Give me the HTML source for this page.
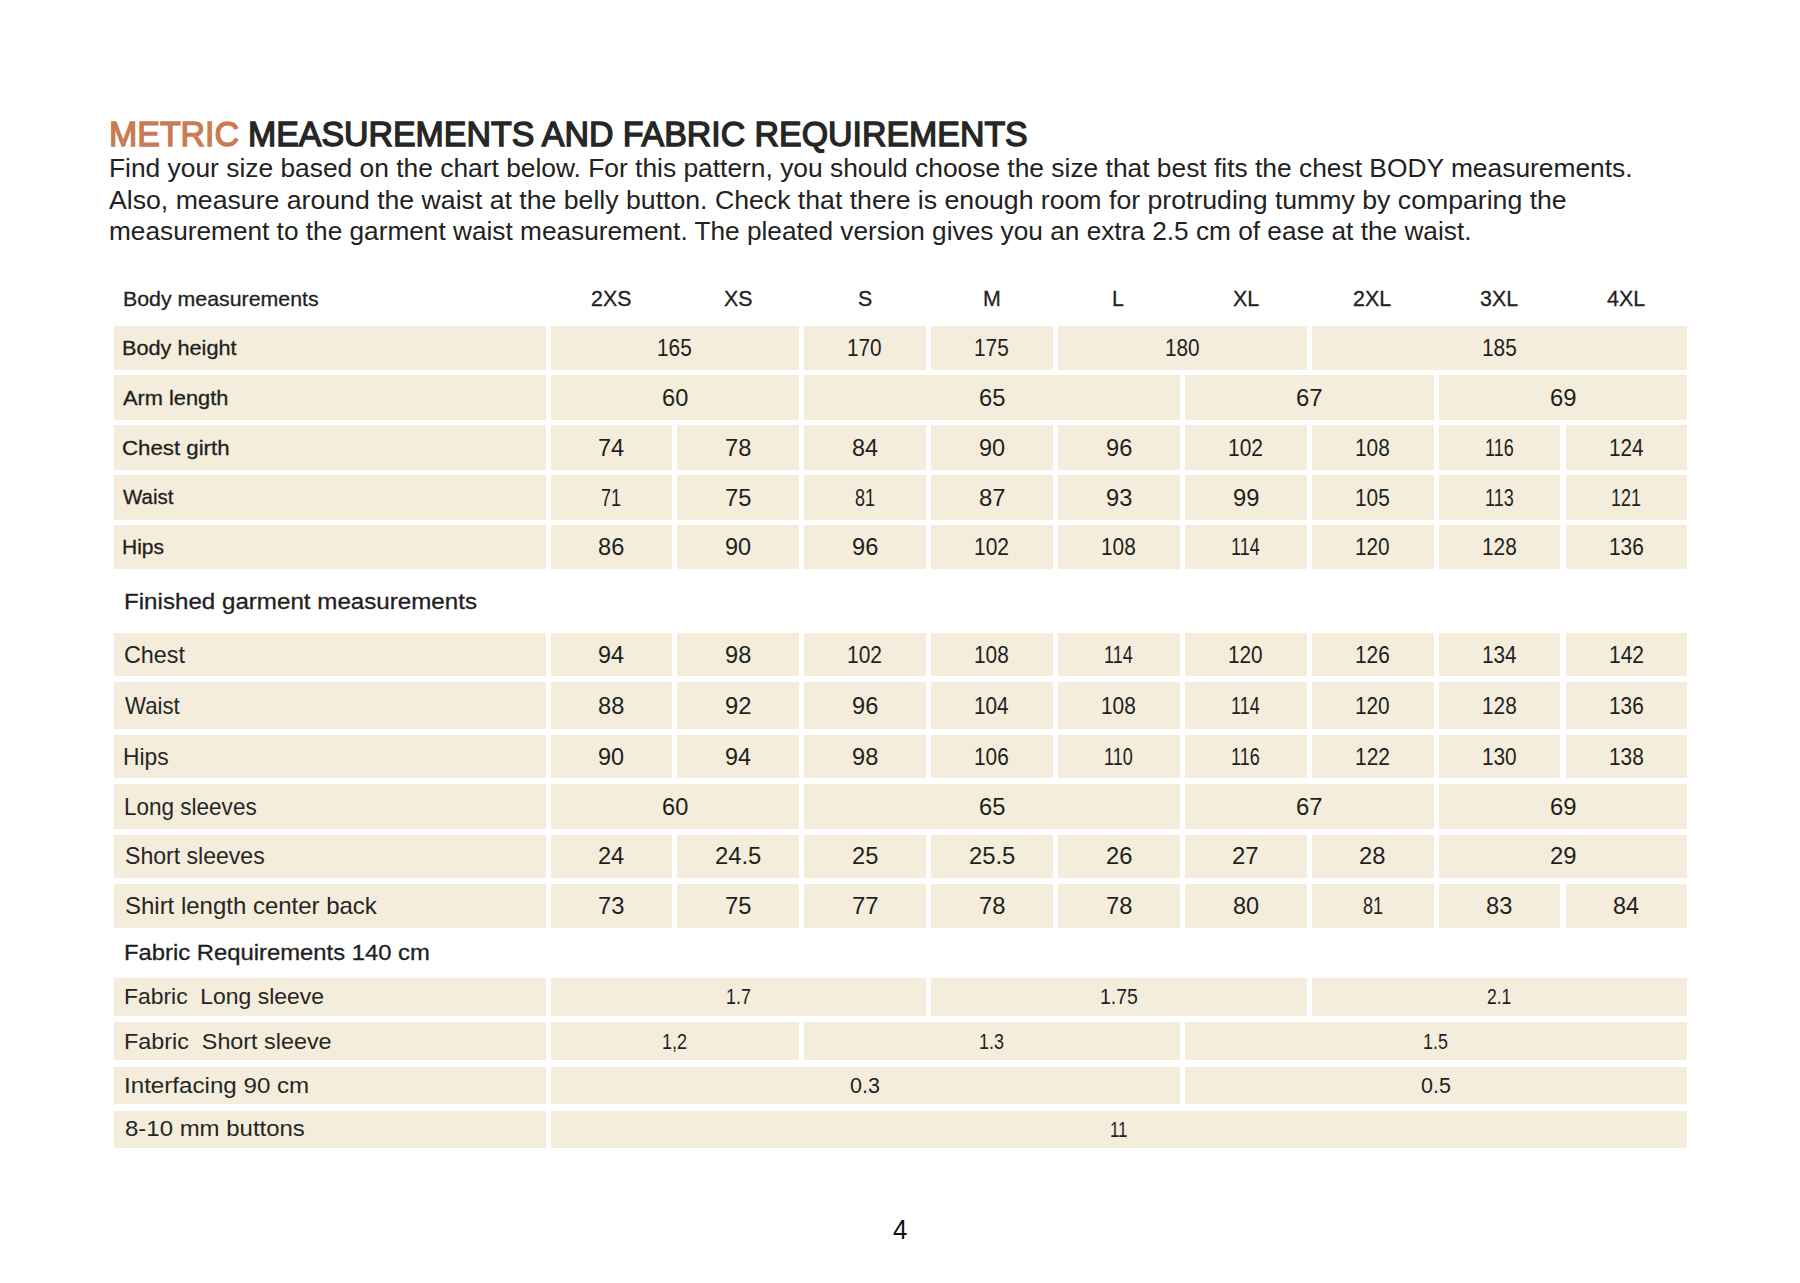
<!DOCTYPE html>
<html><head><meta charset="utf-8"><title>Metric measurements and fabric requirements</title>
<style>
html,body{margin:0;padding:0;background:#fff;}
body{width:1800px;height:1283px;position:relative;overflow:hidden;font-family:"Liberation Sans",Arial,sans-serif;}
.c{position:absolute;background:#F4EDDB;}
.t{position:absolute;white-space:pre;transform-origin:0 0;}

</style></head><body>
<div class="c" style="left:113.50px;top:325.80px;width:432.00px;height:44.50px"></div>
<div class="c" style="left:550.70px;top:325.80px;width:248.40px;height:44.50px"></div>
<div class="c" style="left:804.10px;top:325.80px;width:121.90px;height:44.50px"></div>
<div class="c" style="left:931.00px;top:325.80px;width:121.90px;height:44.50px"></div>
<div class="c" style="left:1057.90px;top:325.80px;width:248.80px;height:44.50px"></div>
<div class="c" style="left:1311.70px;top:325.80px;width:375.60px;height:44.50px"></div>
<div class="c" style="left:113.50px;top:375.30px;width:432.00px;height:44.70px"></div>
<div class="c" style="left:550.70px;top:375.30px;width:248.40px;height:44.70px"></div>
<div class="c" style="left:804.10px;top:375.30px;width:375.70px;height:44.70px"></div>
<div class="c" style="left:1184.80px;top:375.30px;width:248.80px;height:44.70px"></div>
<div class="c" style="left:1438.60px;top:375.30px;width:248.70px;height:44.70px"></div>
<div class="c" style="left:113.50px;top:425.00px;width:432.00px;height:45.00px"></div>
<div class="c" style="left:550.70px;top:425.00px;width:121.50px;height:45.00px"></div>
<div class="c" style="left:677.20px;top:425.00px;width:121.90px;height:45.00px"></div>
<div class="c" style="left:804.10px;top:425.00px;width:121.90px;height:45.00px"></div>
<div class="c" style="left:931.00px;top:425.00px;width:121.90px;height:45.00px"></div>
<div class="c" style="left:1057.90px;top:425.00px;width:121.90px;height:45.00px"></div>
<div class="c" style="left:1184.80px;top:425.00px;width:121.90px;height:45.00px"></div>
<div class="c" style="left:1311.70px;top:425.00px;width:121.90px;height:45.00px"></div>
<div class="c" style="left:1438.60px;top:425.00px;width:121.90px;height:45.00px"></div>
<div class="c" style="left:1565.50px;top:425.00px;width:121.80px;height:45.00px"></div>
<div class="c" style="left:113.50px;top:474.80px;width:432.00px;height:45.20px"></div>
<div class="c" style="left:550.70px;top:474.80px;width:121.50px;height:45.20px"></div>
<div class="c" style="left:677.20px;top:474.80px;width:121.90px;height:45.20px"></div>
<div class="c" style="left:804.10px;top:474.80px;width:121.90px;height:45.20px"></div>
<div class="c" style="left:931.00px;top:474.80px;width:121.90px;height:45.20px"></div>
<div class="c" style="left:1057.90px;top:474.80px;width:121.90px;height:45.20px"></div>
<div class="c" style="left:1184.80px;top:474.80px;width:121.90px;height:45.20px"></div>
<div class="c" style="left:1311.70px;top:474.80px;width:121.90px;height:45.20px"></div>
<div class="c" style="left:1438.60px;top:474.80px;width:121.90px;height:45.20px"></div>
<div class="c" style="left:1565.50px;top:474.80px;width:121.80px;height:45.20px"></div>
<div class="c" style="left:113.50px;top:524.50px;width:432.00px;height:44.50px"></div>
<div class="c" style="left:550.70px;top:524.50px;width:121.50px;height:44.50px"></div>
<div class="c" style="left:677.20px;top:524.50px;width:121.90px;height:44.50px"></div>
<div class="c" style="left:804.10px;top:524.50px;width:121.90px;height:44.50px"></div>
<div class="c" style="left:931.00px;top:524.50px;width:121.90px;height:44.50px"></div>
<div class="c" style="left:1057.90px;top:524.50px;width:121.90px;height:44.50px"></div>
<div class="c" style="left:1184.80px;top:524.50px;width:121.90px;height:44.50px"></div>
<div class="c" style="left:1311.70px;top:524.50px;width:121.90px;height:44.50px"></div>
<div class="c" style="left:1438.60px;top:524.50px;width:121.90px;height:44.50px"></div>
<div class="c" style="left:1565.50px;top:524.50px;width:121.80px;height:44.50px"></div>
<div class="c" style="left:113.50px;top:633.00px;width:432.00px;height:42.50px"></div>
<div class="c" style="left:550.70px;top:633.00px;width:121.50px;height:42.50px"></div>
<div class="c" style="left:677.20px;top:633.00px;width:121.90px;height:42.50px"></div>
<div class="c" style="left:804.10px;top:633.00px;width:121.90px;height:42.50px"></div>
<div class="c" style="left:931.00px;top:633.00px;width:121.90px;height:42.50px"></div>
<div class="c" style="left:1057.90px;top:633.00px;width:121.90px;height:42.50px"></div>
<div class="c" style="left:1184.80px;top:633.00px;width:121.90px;height:42.50px"></div>
<div class="c" style="left:1311.70px;top:633.00px;width:121.90px;height:42.50px"></div>
<div class="c" style="left:1438.60px;top:633.00px;width:121.90px;height:42.50px"></div>
<div class="c" style="left:1565.50px;top:633.00px;width:121.80px;height:42.50px"></div>
<div class="c" style="left:113.50px;top:682.00px;width:432.00px;height:46.50px"></div>
<div class="c" style="left:550.70px;top:682.00px;width:121.50px;height:46.50px"></div>
<div class="c" style="left:677.20px;top:682.00px;width:121.90px;height:46.50px"></div>
<div class="c" style="left:804.10px;top:682.00px;width:121.90px;height:46.50px"></div>
<div class="c" style="left:931.00px;top:682.00px;width:121.90px;height:46.50px"></div>
<div class="c" style="left:1057.90px;top:682.00px;width:121.90px;height:46.50px"></div>
<div class="c" style="left:1184.80px;top:682.00px;width:121.90px;height:46.50px"></div>
<div class="c" style="left:1311.70px;top:682.00px;width:121.90px;height:46.50px"></div>
<div class="c" style="left:1438.60px;top:682.00px;width:121.90px;height:46.50px"></div>
<div class="c" style="left:1565.50px;top:682.00px;width:121.80px;height:46.50px"></div>
<div class="c" style="left:113.50px;top:734.70px;width:432.00px;height:43.30px"></div>
<div class="c" style="left:550.70px;top:734.70px;width:121.50px;height:43.30px"></div>
<div class="c" style="left:677.20px;top:734.70px;width:121.90px;height:43.30px"></div>
<div class="c" style="left:804.10px;top:734.70px;width:121.90px;height:43.30px"></div>
<div class="c" style="left:931.00px;top:734.70px;width:121.90px;height:43.30px"></div>
<div class="c" style="left:1057.90px;top:734.70px;width:121.90px;height:43.30px"></div>
<div class="c" style="left:1184.80px;top:734.70px;width:121.90px;height:43.30px"></div>
<div class="c" style="left:1311.70px;top:734.70px;width:121.90px;height:43.30px"></div>
<div class="c" style="left:1438.60px;top:734.70px;width:121.90px;height:43.30px"></div>
<div class="c" style="left:1565.50px;top:734.70px;width:121.80px;height:43.30px"></div>
<div class="c" style="left:113.50px;top:784.00px;width:432.00px;height:44.50px"></div>
<div class="c" style="left:550.70px;top:784.00px;width:248.40px;height:44.50px"></div>
<div class="c" style="left:804.10px;top:784.00px;width:375.70px;height:44.50px"></div>
<div class="c" style="left:1184.80px;top:784.00px;width:248.80px;height:44.50px"></div>
<div class="c" style="left:1438.60px;top:784.00px;width:248.70px;height:44.50px"></div>
<div class="c" style="left:113.50px;top:834.50px;width:432.00px;height:43.10px"></div>
<div class="c" style="left:550.70px;top:834.50px;width:121.50px;height:43.10px"></div>
<div class="c" style="left:677.20px;top:834.50px;width:121.90px;height:43.10px"></div>
<div class="c" style="left:804.10px;top:834.50px;width:121.90px;height:43.10px"></div>
<div class="c" style="left:931.00px;top:834.50px;width:121.90px;height:43.10px"></div>
<div class="c" style="left:1057.90px;top:834.50px;width:121.90px;height:43.10px"></div>
<div class="c" style="left:1184.80px;top:834.50px;width:121.90px;height:43.10px"></div>
<div class="c" style="left:1311.70px;top:834.50px;width:121.90px;height:43.10px"></div>
<div class="c" style="left:1438.60px;top:834.50px;width:248.70px;height:43.10px"></div>
<div class="c" style="left:113.50px;top:884.00px;width:432.00px;height:43.60px"></div>
<div class="c" style="left:550.70px;top:884.00px;width:121.50px;height:43.60px"></div>
<div class="c" style="left:677.20px;top:884.00px;width:121.90px;height:43.60px"></div>
<div class="c" style="left:804.10px;top:884.00px;width:121.90px;height:43.60px"></div>
<div class="c" style="left:931.00px;top:884.00px;width:121.90px;height:43.60px"></div>
<div class="c" style="left:1057.90px;top:884.00px;width:121.90px;height:43.60px"></div>
<div class="c" style="left:1184.80px;top:884.00px;width:121.90px;height:43.60px"></div>
<div class="c" style="left:1311.70px;top:884.00px;width:121.90px;height:43.60px"></div>
<div class="c" style="left:1438.60px;top:884.00px;width:121.90px;height:43.60px"></div>
<div class="c" style="left:1565.50px;top:884.00px;width:121.80px;height:43.60px"></div>
<div class="c" style="left:113.50px;top:977.50px;width:432.00px;height:38.50px"></div>
<div class="c" style="left:550.70px;top:977.50px;width:375.30px;height:38.50px"></div>
<div class="c" style="left:931.00px;top:977.50px;width:375.70px;height:38.50px"></div>
<div class="c" style="left:1311.70px;top:977.50px;width:375.60px;height:38.50px"></div>
<div class="c" style="left:113.50px;top:1022.00px;width:432.00px;height:38.30px"></div>
<div class="c" style="left:550.70px;top:1022.00px;width:248.40px;height:38.30px"></div>
<div class="c" style="left:804.10px;top:1022.00px;width:375.70px;height:38.30px"></div>
<div class="c" style="left:1184.80px;top:1022.00px;width:502.50px;height:38.30px"></div>
<div class="c" style="left:113.50px;top:1066.50px;width:432.00px;height:37.50px"></div>
<div class="c" style="left:550.70px;top:1066.50px;width:629.10px;height:37.50px"></div>
<div class="c" style="left:1184.80px;top:1066.50px;width:502.50px;height:37.50px"></div>
<div class="c" style="left:113.50px;top:1110.50px;width:432.00px;height:37.00px"></div>
<div class="c" style="left:550.70px;top:1110.50px;width:1136.60px;height:37.00px"></div>
<div class="t" style="top:116.51px;font-size:35.60px;line-height:35.60px;color:#CB7B54;-webkit-text-stroke:1.40px #CB7B54;left:108.68px;transform:scaleX(0.9535);">METRIC</div>
<div class="t" style="top:116.51px;font-size:35.60px;line-height:35.60px;color:#262626;-webkit-text-stroke:1.40px #262626;left:248.09px;transform:scaleX(0.9527);">MEASUREMENTS AND FABRIC REQUIREMENTS</div>
<div class="t" style="top:156.10px;font-size:25.80px;line-height:25.80px;color:#222;left:108.59px;transform:scaleX(1.0220);">Find your size based on the chart below. For this pattern, you should choose the size that best fits the chest BODY measurements.</div>
<div class="t" style="top:187.71px;font-size:25.80px;line-height:25.80px;color:#222;left:109.30px;transform:scaleX(1.0331);">Also, measure around the waist at the belly button. Check that there is enough room for protruding tummy by comparing the</div>
<div class="t" style="top:219.41px;font-size:25.80px;line-height:25.80px;color:#222;left:108.80px;transform:scaleX(1.0166);">measurement to the garment waist measurement. The pleated version gives you an extra 2.5 cm of ease at the waist.</div>
<div class="t" style="top:288.71px;font-size:20.90px;line-height:20.90px;color:#1f1f1f;-webkit-text-stroke:0.30px #1f1f1f;left:123.09px;transform:scaleX(1.0209);">Body measurements</div>
<div class="t" style="top:288.00px;font-size:22.50px;line-height:22.50px;color:#1f1f1f;-webkit-text-stroke:0.30px #1f1f1f;left:591.20px;transform:scaleX(0.9500);">2XS</div>
<div class="t" style="top:288.00px;font-size:22.50px;line-height:22.50px;color:#1f1f1f;-webkit-text-stroke:0.30px #1f1f1f;left:724.15px;transform:scaleX(0.9500);">XS</div>
<div class="t" style="top:288.00px;font-size:22.50px;line-height:22.50px;color:#1f1f1f;-webkit-text-stroke:0.30px #1f1f1f;left:857.94px;transform:scaleX(0.9500);">S</div>
<div class="t" style="top:288.00px;font-size:22.50px;line-height:22.50px;color:#1f1f1f;-webkit-text-stroke:0.30px #1f1f1f;left:983.08px;transform:scaleX(0.9500);">M</div>
<div class="t" style="top:288.00px;font-size:22.50px;line-height:22.50px;color:#1f1f1f;-webkit-text-stroke:0.30px #1f1f1f;left:1112.38px;transform:scaleX(0.9500);">L</div>
<div class="t" style="top:288.00px;font-size:22.50px;line-height:22.50px;color:#1f1f1f;-webkit-text-stroke:0.30px #1f1f1f;left:1232.76px;transform:scaleX(0.9500);">XL</div>
<div class="t" style="top:288.00px;font-size:22.50px;line-height:22.50px;color:#1f1f1f;-webkit-text-stroke:0.30px #1f1f1f;left:1353.41px;transform:scaleX(0.9500);">2XL</div>
<div class="t" style="top:288.00px;font-size:22.50px;line-height:22.50px;color:#1f1f1f;-webkit-text-stroke:0.30px #1f1f1f;left:1480.42px;transform:scaleX(0.9500);">3XL</div>
<div class="t" style="top:288.00px;font-size:22.50px;line-height:22.50px;color:#1f1f1f;-webkit-text-stroke:0.30px #1f1f1f;left:1607.48px;transform:scaleX(0.9500);">4XL</div>
<div class="t" style="top:338.11px;font-size:20.50px;line-height:20.50px;color:#1f1f1f;-webkit-text-stroke:0.30px #1f1f1f;left:121.56px;transform:scaleX(1.0582);">Body height</div>
<div class="t" style="top:336.33px;font-size:24.00px;line-height:24.00px;color:#1f1f1f;left:657.19px;transform:scaleX(0.8683);">165</div>
<div class="t" style="top:336.33px;font-size:24.00px;line-height:24.00px;color:#1f1f1f;left:847.34px;transform:scaleX(0.8655);">170</div>
<div class="t" style="top:336.33px;font-size:24.00px;line-height:24.00px;color:#1f1f1f;left:974.24px;transform:scaleX(0.8683);">175</div>
<div class="t" style="top:336.33px;font-size:24.00px;line-height:24.00px;color:#1f1f1f;left:1164.59px;transform:scaleX(0.8655);">180</div>
<div class="t" style="top:336.33px;font-size:24.00px;line-height:24.00px;color:#1f1f1f;left:1481.79px;transform:scaleX(0.8683);">185</div>
<div class="t" style="top:387.70px;font-size:20.50px;line-height:20.50px;color:#1f1f1f;-webkit-text-stroke:0.30px #1f1f1f;left:123.00px;transform:scaleX(1.0636);">Arm length</div>
<div class="t" style="top:385.94px;font-size:24.00px;line-height:24.00px;color:#1f1f1f;left:661.62px;transform:scaleX(0.9837);">60</div>
<div class="t" style="top:385.94px;font-size:24.00px;line-height:24.00px;color:#1f1f1f;left:978.66px;transform:scaleX(0.9886);">65</div>
<div class="t" style="top:385.94px;font-size:24.00px;line-height:24.00px;color:#1f1f1f;left:1295.90px;transform:scaleX(0.9983);">67</div>
<div class="t" style="top:385.94px;font-size:24.00px;line-height:24.00px;color:#1f1f1f;left:1549.66px;transform:scaleX(0.9934);">69</div>
<div class="t" style="top:437.56px;font-size:20.50px;line-height:20.50px;color:#1f1f1f;-webkit-text-stroke:0.30px #1f1f1f;left:121.89px;transform:scaleX(1.0852);">Chest girth</div>
<div class="t" style="top:435.78px;font-size:24.00px;line-height:24.00px;color:#1f1f1f;left:598.18px;transform:scaleX(0.9790);">74</div>
<div class="t" style="top:435.78px;font-size:24.00px;line-height:24.00px;color:#1f1f1f;left:724.86px;transform:scaleX(0.9886);">78</div>
<div class="t" style="top:435.78px;font-size:24.00px;line-height:24.00px;color:#1f1f1f;left:851.90px;transform:scaleX(0.9742);">84</div>
<div class="t" style="top:435.78px;font-size:24.00px;line-height:24.00px;color:#1f1f1f;left:978.79px;transform:scaleX(0.9790);">90</div>
<div class="t" style="top:435.78px;font-size:24.00px;line-height:24.00px;color:#1f1f1f;left:1105.69px;transform:scaleX(0.9837);">96</div>
<div class="t" style="top:435.78px;font-size:24.00px;line-height:24.00px;color:#1f1f1f;left:1228.03px;transform:scaleX(0.8739);">102</div>
<div class="t" style="top:435.78px;font-size:24.00px;line-height:24.00px;color:#1f1f1f;left:1354.94px;transform:scaleX(0.8683);">108</div>
<div class="t" style="top:435.78px;font-size:24.00px;line-height:24.00px;color:#1f1f1f;left:1484.88px;transform:scaleX(0.7500);">116</div>
<div class="t" style="top:435.78px;font-size:24.00px;line-height:24.00px;color:#1f1f1f;left:1608.70px;transform:scaleX(0.8627);">124</div>
<div class="t" style="top:487.45px;font-size:20.50px;line-height:20.50px;color:#1f1f1f;-webkit-text-stroke:0.30px #1f1f1f;left:123.00px;transform:scaleX(0.9975);">Waist</div>
<div class="t" style="top:485.69px;font-size:24.00px;line-height:24.00px;color:#1f1f1f;left:601.40px;transform:scaleX(0.7512);">71</div>
<div class="t" style="top:485.69px;font-size:24.00px;line-height:24.00px;color:#1f1f1f;left:724.86px;transform:scaleX(0.9886);">75</div>
<div class="t" style="top:485.69px;font-size:24.00px;line-height:24.00px;color:#1f1f1f;left:855.06px;transform:scaleX(0.7500);">81</div>
<div class="t" style="top:485.69px;font-size:24.00px;line-height:24.00px;color:#1f1f1f;left:978.78px;transform:scaleX(0.9934);">87</div>
<div class="t" style="top:485.69px;font-size:24.00px;line-height:24.00px;color:#1f1f1f;left:1105.69px;transform:scaleX(0.9837);">93</div>
<div class="t" style="top:485.69px;font-size:24.00px;line-height:24.00px;color:#1f1f1f;left:1232.58px;transform:scaleX(0.9886);">99</div>
<div class="t" style="top:485.69px;font-size:24.00px;line-height:24.00px;color:#1f1f1f;left:1354.94px;transform:scaleX(0.8683);">105</div>
<div class="t" style="top:485.69px;font-size:24.00px;line-height:24.00px;color:#1f1f1f;left:1484.88px;transform:scaleX(0.7500);">113</div>
<div class="t" style="top:485.69px;font-size:24.00px;line-height:24.00px;color:#1f1f1f;left:1611.15px;transform:scaleX(0.7500);">121</div>
<div class="t" style="top:536.81px;font-size:20.50px;line-height:20.50px;color:#1f1f1f;-webkit-text-stroke:0.30px #1f1f1f;left:121.72px;transform:scaleX(1.0248);">Hips</div>
<div class="t" style="top:535.03px;font-size:24.00px;line-height:24.00px;color:#1f1f1f;left:598.29px;transform:scaleX(0.9837);">86</div>
<div class="t" style="top:535.03px;font-size:24.00px;line-height:24.00px;color:#1f1f1f;left:724.99px;transform:scaleX(0.9790);">90</div>
<div class="t" style="top:535.03px;font-size:24.00px;line-height:24.00px;color:#1f1f1f;left:851.89px;transform:scaleX(0.9837);">96</div>
<div class="t" style="top:535.03px;font-size:24.00px;line-height:24.00px;color:#1f1f1f;left:974.23px;transform:scaleX(0.8739);">102</div>
<div class="t" style="top:535.03px;font-size:24.00px;line-height:24.00px;color:#1f1f1f;left:1101.14px;transform:scaleX(0.8683);">108</div>
<div class="t" style="top:535.03px;font-size:24.00px;line-height:24.00px;color:#1f1f1f;left:1230.99px;transform:scaleX(0.7500);">114</div>
<div class="t" style="top:535.03px;font-size:24.00px;line-height:24.00px;color:#1f1f1f;left:1354.94px;transform:scaleX(0.8655);">120</div>
<div class="t" style="top:535.03px;font-size:24.00px;line-height:24.00px;color:#1f1f1f;left:1481.84px;transform:scaleX(0.8683);">128</div>
<div class="t" style="top:535.03px;font-size:24.00px;line-height:24.00px;color:#1f1f1f;left:1608.69px;transform:scaleX(0.8683);">136</div>
<div class="t" style="top:590.51px;font-size:22.40px;line-height:22.40px;color:#1f1f1f;-webkit-text-stroke:0.30px #1f1f1f;left:123.67px;transform:scaleX(1.0784);">Finished garment measurements</div>
<div class="t" style="top:642.50px;font-size:24.00px;line-height:24.00px;color:#262626;left:123.83px;transform:scaleX(0.9736);">Chest</div>
<div class="t" style="top:642.53px;font-size:24.00px;line-height:24.00px;color:#1f1f1f;left:598.30px;transform:scaleX(0.9742);">94</div>
<div class="t" style="top:642.53px;font-size:24.00px;line-height:24.00px;color:#1f1f1f;left:724.99px;transform:scaleX(0.9837);">98</div>
<div class="t" style="top:642.53px;font-size:24.00px;line-height:24.00px;color:#1f1f1f;left:847.33px;transform:scaleX(0.8739);">102</div>
<div class="t" style="top:642.53px;font-size:24.00px;line-height:24.00px;color:#1f1f1f;left:974.24px;transform:scaleX(0.8683);">108</div>
<div class="t" style="top:642.53px;font-size:24.00px;line-height:24.00px;color:#1f1f1f;left:1104.09px;transform:scaleX(0.7500);">114</div>
<div class="t" style="top:642.53px;font-size:24.00px;line-height:24.00px;color:#1f1f1f;left:1228.04px;transform:scaleX(0.8655);">120</div>
<div class="t" style="top:642.53px;font-size:24.00px;line-height:24.00px;color:#1f1f1f;left:1354.94px;transform:scaleX(0.8683);">126</div>
<div class="t" style="top:642.53px;font-size:24.00px;line-height:24.00px;color:#1f1f1f;left:1481.85px;transform:scaleX(0.8627);">134</div>
<div class="t" style="top:642.53px;font-size:24.00px;line-height:24.00px;color:#1f1f1f;left:1608.68px;transform:scaleX(0.8739);">142</div>
<div class="t" style="top:693.50px;font-size:24.00px;line-height:24.00px;color:#262626;left:124.89px;transform:scaleX(0.9252);">Waist</div>
<div class="t" style="top:693.53px;font-size:24.00px;line-height:24.00px;color:#1f1f1f;left:598.29px;transform:scaleX(0.9837);">88</div>
<div class="t" style="top:693.53px;font-size:24.00px;line-height:24.00px;color:#1f1f1f;left:724.98px;transform:scaleX(0.9934);">92</div>
<div class="t" style="top:693.53px;font-size:24.00px;line-height:24.00px;color:#1f1f1f;left:851.89px;transform:scaleX(0.9837);">96</div>
<div class="t" style="top:693.53px;font-size:24.00px;line-height:24.00px;color:#1f1f1f;left:974.25px;transform:scaleX(0.8627);">104</div>
<div class="t" style="top:693.53px;font-size:24.00px;line-height:24.00px;color:#1f1f1f;left:1101.14px;transform:scaleX(0.8683);">108</div>
<div class="t" style="top:693.53px;font-size:24.00px;line-height:24.00px;color:#1f1f1f;left:1230.99px;transform:scaleX(0.7500);">114</div>
<div class="t" style="top:693.53px;font-size:24.00px;line-height:24.00px;color:#1f1f1f;left:1354.94px;transform:scaleX(0.8655);">120</div>
<div class="t" style="top:693.53px;font-size:24.00px;line-height:24.00px;color:#1f1f1f;left:1481.84px;transform:scaleX(0.8683);">128</div>
<div class="t" style="top:693.53px;font-size:24.00px;line-height:24.00px;color:#1f1f1f;left:1608.69px;transform:scaleX(0.8683);">136</div>
<div class="t" style="top:744.61px;font-size:24.00px;line-height:24.00px;color:#262626;left:123.18px;transform:scaleX(0.9505);">Hips</div>
<div class="t" style="top:744.64px;font-size:24.00px;line-height:24.00px;color:#1f1f1f;left:598.29px;transform:scaleX(0.9790);">90</div>
<div class="t" style="top:744.64px;font-size:24.00px;line-height:24.00px;color:#1f1f1f;left:725.00px;transform:scaleX(0.9742);">94</div>
<div class="t" style="top:744.64px;font-size:24.00px;line-height:24.00px;color:#1f1f1f;left:851.89px;transform:scaleX(0.9837);">98</div>
<div class="t" style="top:744.64px;font-size:24.00px;line-height:24.00px;color:#1f1f1f;left:974.24px;transform:scaleX(0.8683);">106</div>
<div class="t" style="top:744.64px;font-size:24.00px;line-height:24.00px;color:#1f1f1f;left:1104.14px;transform:scaleX(0.7500);">110</div>
<div class="t" style="top:744.64px;font-size:24.00px;line-height:24.00px;color:#1f1f1f;left:1231.08px;transform:scaleX(0.7500);">116</div>
<div class="t" style="top:744.64px;font-size:24.00px;line-height:24.00px;color:#1f1f1f;left:1354.93px;transform:scaleX(0.8739);">122</div>
<div class="t" style="top:744.64px;font-size:24.00px;line-height:24.00px;color:#1f1f1f;left:1481.84px;transform:scaleX(0.8655);">130</div>
<div class="t" style="top:744.64px;font-size:24.00px;line-height:24.00px;color:#1f1f1f;left:1608.69px;transform:scaleX(0.8683);">138</div>
<div class="t" style="top:794.50px;font-size:24.00px;line-height:24.00px;color:#262626;left:123.80px;transform:scaleX(0.9379);">Long sleeves</div>
<div class="t" style="top:794.53px;font-size:24.00px;line-height:24.00px;color:#1f1f1f;left:661.62px;transform:scaleX(0.9837);">60</div>
<div class="t" style="top:794.53px;font-size:24.00px;line-height:24.00px;color:#1f1f1f;left:978.66px;transform:scaleX(0.9886);">65</div>
<div class="t" style="top:794.53px;font-size:24.00px;line-height:24.00px;color:#1f1f1f;left:1295.90px;transform:scaleX(0.9983);">67</div>
<div class="t" style="top:794.53px;font-size:24.00px;line-height:24.00px;color:#1f1f1f;left:1549.66px;transform:scaleX(0.9934);">69</div>
<div class="t" style="top:844.30px;font-size:24.00px;line-height:24.00px;color:#262626;left:124.56px;transform:scaleX(0.9608);">Short sleeves</div>
<div class="t" style="top:844.33px;font-size:24.00px;line-height:24.00px;color:#1f1f1f;left:598.18px;transform:scaleX(0.9790);">24</div>
<div class="t" style="top:844.33px;font-size:24.00px;line-height:24.00px;color:#1f1f1f;left:714.86px;transform:scaleX(0.9928);">24.5</div>
<div class="t" style="top:844.33px;font-size:24.00px;line-height:24.00px;color:#1f1f1f;left:851.76px;transform:scaleX(0.9886);">25</div>
<div class="t" style="top:844.33px;font-size:24.00px;line-height:24.00px;color:#1f1f1f;left:968.66px;transform:scaleX(0.9928);">25.5</div>
<div class="t" style="top:844.33px;font-size:24.00px;line-height:24.00px;color:#1f1f1f;left:1105.56px;transform:scaleX(0.9886);">26</div>
<div class="t" style="top:844.33px;font-size:24.00px;line-height:24.00px;color:#1f1f1f;left:1232.45px;transform:scaleX(0.9983);">27</div>
<div class="t" style="top:844.33px;font-size:24.00px;line-height:24.00px;color:#1f1f1f;left:1359.36px;transform:scaleX(0.9886);">28</div>
<div class="t" style="top:844.33px;font-size:24.00px;line-height:24.00px;color:#1f1f1f;left:1549.66px;transform:scaleX(0.9934);">29</div>
<div class="t" style="top:894.05px;font-size:24.00px;line-height:24.00px;color:#262626;left:124.52px;transform:scaleX(0.9986);">Shirt length center back</div>
<div class="t" style="top:894.08px;font-size:24.00px;line-height:24.00px;color:#1f1f1f;left:598.16px;transform:scaleX(0.9886);">73</div>
<div class="t" style="top:894.08px;font-size:24.00px;line-height:24.00px;color:#1f1f1f;left:724.86px;transform:scaleX(0.9886);">75</div>
<div class="t" style="top:894.08px;font-size:24.00px;line-height:24.00px;color:#1f1f1f;left:851.75px;transform:scaleX(0.9983);">77</div>
<div class="t" style="top:894.08px;font-size:24.00px;line-height:24.00px;color:#1f1f1f;left:978.66px;transform:scaleX(0.9886);">78</div>
<div class="t" style="top:894.08px;font-size:24.00px;line-height:24.00px;color:#1f1f1f;left:1105.56px;transform:scaleX(0.9886);">78</div>
<div class="t" style="top:894.08px;font-size:24.00px;line-height:24.00px;color:#1f1f1f;left:1232.59px;transform:scaleX(0.9790);">80</div>
<div class="t" style="top:894.08px;font-size:24.00px;line-height:24.00px;color:#1f1f1f;left:1362.66px;transform:scaleX(0.7500);">81</div>
<div class="t" style="top:894.08px;font-size:24.00px;line-height:24.00px;color:#1f1f1f;left:1486.39px;transform:scaleX(0.9837);">83</div>
<div class="t" style="top:894.08px;font-size:24.00px;line-height:24.00px;color:#1f1f1f;left:1613.25px;transform:scaleX(0.9742);">84</div>
<div class="t" style="top:943.30px;font-size:21.40px;line-height:21.40px;color:#1f1f1f;-webkit-text-stroke:0.30px #1f1f1f;left:124.09px;transform:scaleX(1.1135);">Fabric Requirements 140 cm</div>
<div class="t" style="top:986.11px;font-size:21.80px;line-height:21.80px;color:#262626;left:124.17px;transform:scaleX(1.0508);">Fabric  Long sleeve</div>
<div class="t" style="top:986.48px;font-size:22.40px;line-height:22.40px;color:#1f1f1f;left:725.61px;transform:scaleX(0.8041);">1.7</div>
<div class="t" style="top:986.48px;font-size:22.40px;line-height:22.40px;color:#1f1f1f;left:1099.53px;transform:scaleX(0.8712);">1.75</div>
<div class="t" style="top:986.48px;font-size:22.40px;line-height:22.40px;color:#1f1f1f;left:1487.28px;transform:scaleX(0.7823);">2.1</div>
<div class="t" style="top:1030.50px;font-size:21.80px;line-height:21.80px;color:#262626;left:124.13px;transform:scaleX(1.0708);">Fabric  Short sleeve</div>
<div class="t" style="top:1030.89px;font-size:22.40px;line-height:22.40px;color:#1f1f1f;left:662.16px;transform:scaleX(0.8041);">1,2</div>
<div class="t" style="top:1030.89px;font-size:22.40px;line-height:22.40px;color:#1f1f1f;left:979.22px;transform:scaleX(0.7978);">1.3</div>
<div class="t" style="top:1030.89px;font-size:22.40px;line-height:22.40px;color:#1f1f1f;left:1423.32px;transform:scaleX(0.7978);">1.5</div>
<div class="t" style="top:1074.61px;font-size:21.80px;line-height:21.80px;color:#262626;left:123.83px;transform:scaleX(1.1077);">Interfacing 90 cm</div>
<div class="t" style="top:1074.98px;font-size:22.40px;line-height:22.40px;color:#1f1f1f;left:850.30px;transform:scaleX(0.9603);">0.3</div>
<div class="t" style="top:1074.98px;font-size:22.40px;line-height:22.40px;color:#1f1f1f;left:1421.10px;transform:scaleX(0.9603);">0.5</div>
<div class="t" style="top:1118.36px;font-size:21.80px;line-height:21.80px;color:#262626;left:124.92px;transform:scaleX(1.0997);">8-10 mm buttons</div>
<div class="t" style="top:1118.73px;font-size:22.40px;line-height:22.40px;color:#1f1f1f;left:1110.05px;transform:scaleX(0.7500);">11</div>
<div class="t" style="top:1214.80px;font-size:28.20px;line-height:28.20px;color:#111;left:893.09px;transform:scaleX(0.9129);">4</div>
</body></html>
